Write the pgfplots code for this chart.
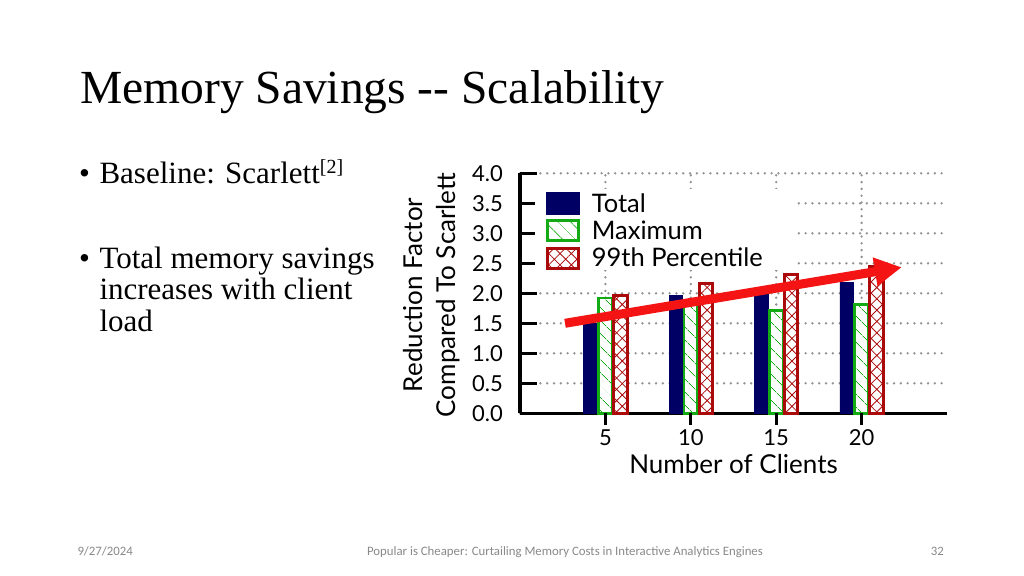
\documentclass[border=0pt]{standalone}
\usepackage{fontspec}
\setmainfont{Liberation Serif}
\newfontfamily\chartfont{Lato}
\newfontfamily\footfont{Carlito}
\usepackage{pgfplots}
\usepackage{pgfplotstable}
\pgfplotsset{compat=1.18}
\usetikzlibrary{patterns.meta, arrows.meta}

\definecolor{barnavy}{RGB}{0,0,100}
\definecolor{bargreen}{RGB}{20,170,20}
\definecolor{barred}{RGB}{170,10,10}
\definecolor{arrowred}{RGB}{245,20,20}
\definecolor{gridgray}{RGB}{145,145,145}
\definecolor{footgray}{RGB}{137,137,137}

\pgfplotsset{
  solidkey/.style={legend image code/.code={\draw[##1] (0bp,-11.2bp) rectangle (33.1bp,11.2bp);}},
  outlinekey/.style={legend image code/.code={\draw[##1] (1.4bp,-10bp) rectangle (32.2bp,10bp);}},
}

% reduction factor vs. Scarlett, per number of clients (5,10,15,20)
\pgfplotstableread{
x total maximum pct99
1 1.50  1.92    1.96
2 1.96  1.86    2.16
3 2.06  1.71    2.31
4 2.18  1.81    2.45
}\memdata

\begin{document}
\begin{tikzpicture}
\path[use as bounding box, fill=white] (0bp,0bp) rectangle (1024bp,576bp);

% title
\node[anchor=base west, inner sep=0pt, font=\fontsize{47.5bp}{50bp}\selectfont]
  at (80bp,472bp) {Memory Savings -{}- Scalability};

% bullets
\begin{scope}[every node/.style={anchor=base west, inner sep=0pt, font=\fontsize{31bp}{32bp}\selectfont}]
\node at (79bp,392.7bp) {\textbullet};
\node at (99.3bp,392.7bp) {Baseline: Scarlett\raisebox{9.3bp}{\fontsize{20bp}{20bp}\selectfont[2]}};
\node at (79bp,307.7bp) {\textbullet};
\node at (99.3bp,307.7bp) {Total memory savings};
\node at (99.3bp,276bp) {increases with client};
\node at (99.3bp,244.3bp) {load};
\end{scope}

% footer
\begin{scope}[every node/.style={inner sep=0pt, text=footgray, font=\footfont\fontsize{12.8bp}{14bp}\selectfont}]
\node[anchor=base west] at (77.3bp,21bp) {9/27/2024};
\node[anchor=base] at (565bp,21bp) {Popular is Cheaper: Curtailing Memory Costs in Interactive Analytics Engines};
\node[anchor=base east] at (944bp,21bp) {32};
\end{scope}

\begin{axis}[
  at={(520bp,162.7bp)}, anchor=south west,
  scale only axis, width=427bp, height=240bp,
  xmin=0, xmax=5, ymin=0, ymax=4,
  clip=false,
  axis x line*=bottom, axis y line*=left,
  axis line style={line width=3.4bp, black},
  xtick={1,2,3,4}, xticklabels={5,10,15,20},
  ytick={0,0.5,1,1.5,2,2.5,3,3.5,4},
  yticklabel style={/pgf/number format/fixed, /pgf/number format/fixed zerofill,
    /pgf/number format/precision=1},
  /pgf/number format/assume math mode=true,
  xtick style={draw=none},
  ytick style={line width=3.4bp, black},
  tick align=inside, major tick length=17bp,
  xmajorgrids, ymajorgrids,
  major grid style={gridgray, line width=2.6bp, line cap=round, dash pattern=on 0bp off 6.8bp},
  tick label style={font=\chartfont\fontsize{22bp}{22bp}\selectfont},
  xticklabel style={anchor=base, inner sep=0pt, yshift=-15bp},
  yticklabel style={anchor=east, inner sep=0pt, xshift=-17bp},
  xlabel={Number of Clients},
  xlabel style={at={(axis description cs:0.5,-0.25)}, anchor=base, inner sep=0pt,
    font=\chartfont\fontsize{26bp}{26bp}\selectfont},
  ylabel={Reduction Factor\\Compared To Scarlett},
  ylabel style={at={(axis description cs:-0.1405,0.493)}, anchor=south, inner sep=0pt,
    align=center, font=\chartfont\fontsize{26bp}{33bp}\selectfont},
  ybar=1.5bp, bar width=13.5bp,
  legend cell align=left,
  legend style={at={(0.0602,0.923)}, anchor=north west, draw=none, fill=none,
    inner sep=0pt, row sep=4.5bp, column sep=12bp,
    font=\chartfont\fontsize{25.5bp}{25.5bp}\selectfont,
    nodes={inner sep=0pt}},
]
% white backdrop behind the key
\fill[white] (rel axis cs:0.035,0.597) rectangle (rel axis cs:0.644,0.935);

\addplot[fill=barnavy, draw=barnavy, line width=0.5bp, solidkey]
  table[x=x, y=total] {\memdata};
\addlegendentry{Total}
\addplot[fill=white, draw=bargreen, line width=2.8bp, outlinekey,
  postaction={pattern={Lines[angle=-45, distance=9.5bp, line width=0.8bp]}, pattern color=bargreen}]
  table[x=x, y=maximum] {\memdata};
\addlegendentry{Maximum}
\addplot[fill=white, draw=barred, line width=3bp, outlinekey,
  postaction={pattern={Hatch[angle=45, distance=8bp, line width=0.8bp]}, pattern color=barred}]
  table[x=x, y=pct99] {\memdata};
\addlegendentry{99th Percentile}

% x ticks point outward
\draw[black, line width=3bp] (axis cs:1,0) -- ++(0bp,-12bp);
\draw[black, line width=3bp] (axis cs:2,0) -- ++(0bp,-12bp);
\draw[black, line width=3bp] (axis cs:3,0) -- ++(0bp,-12bp);
\draw[black, line width=3bp] (axis cs:4,0) -- ++(0bp,-12bp);

% trend arrow
\draw[arrowred, line width=9bp, -{Triangle[length=27bp, width=27bp]}]
  (axis cs:0.527,1.5) -- (axis cs:4.47,2.433);
\end{axis}
\end{tikzpicture}
\end{document}
